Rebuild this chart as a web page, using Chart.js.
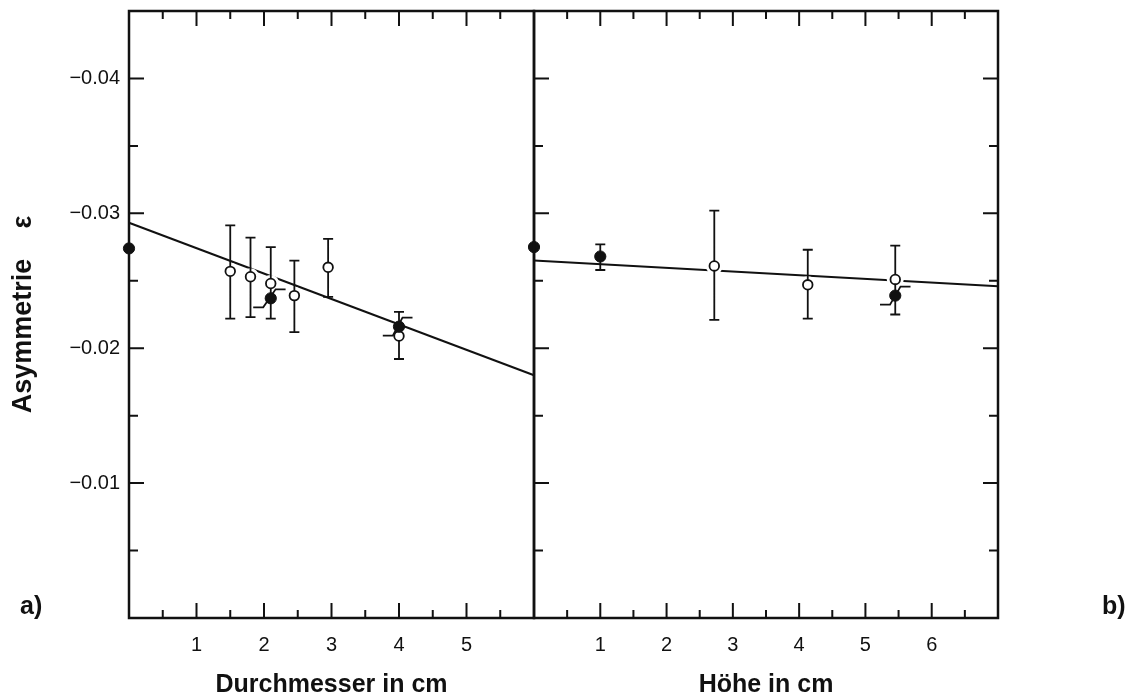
<!DOCTYPE html>
<html>
<head>
<meta charset="utf-8">
<title>Asymmetrie</title>
<script src="https://cdn.jsdelivr.net/npm/chart.js@4"></script>
<style>
  body { margin: 0; background: #fff; }
  #wrap { position: relative; width: 1143px; height: 700px; overflow: hidden; }
  canvas { position: absolute; top: 0; }
  #chartA { left: 0; }
  #chartB { left: 500px; }
</style>
</head>
<body>
<div id="wrap">
  <canvas id="chartA" width="540" height="700"></canvas>
  <canvas id="chartB" width="643" height="700"></canvas>
</div>
<script>
// a) Durchmesser – open points with vertical error bars
const durchmesserOpenX = [1.5, 1.8, 2.1, 2.45, 2.95, 4.0];
const durchmesserOpenY = [-0.0257, -0.0253, -0.0248, -0.0239, -0.0260, -0.0209];
const durchmesserOpenTop = [-0.0291, -0.0282, -0.0275, -0.0265, -0.0281, -0.0227];
const durchmesserOpenBottom = [-0.0222, -0.0223, -0.0222, -0.0212, -0.0238, -0.0192];
// a) filled points, the slanted bars give their x range
const durchmesserFilledX = [0, 2.1, 4.0];
const durchmesserFilledY = [-0.0274, -0.0237, -0.0216];
const durchmesserFilledFrom = [null, 1.84, 3.76];
const durchmesserFilledTo = [null, 2.32, 4.2];
// a) fitted line
const durchmesserFitX = [0, 6];
const durchmesserFitY = [-0.0293, -0.0180];

// b) Höhe
const hoeheOpenX = [2.72, 4.13, 5.45];
const hoeheOpenY = [-0.0261, -0.0247, -0.0251];
const hoeheOpenTop = [-0.0302, -0.0273, -0.0276];
const hoeheOpenBottom = [-0.0221, -0.0222, -0.0225];
const hoeheFilledX = [0, 1.0, 5.45];
const hoeheFilledY = [-0.0275, -0.0268, -0.0239];
const hoeheFilledTop = [null, -0.0277, null];
const hoeheFilledBottom = [null, -0.0258, null];
const hoeheFilledFrom = [null, null, 5.22];
const hoeheFilledTo = [null, null, 5.68];
const hoeheFitX = [0, 7];
const hoeheFitY = [-0.0265, -0.0246];

// ticks
const yTickLabels = [-0.04, -0.03, -0.02, -0.01];
const yMinorTicks = [-0.035, -0.025, -0.015, -0.005];
const durchmesserTickLabels = [1, 2, 3, 4, 5];
const durchmesserMinorTicks = [0.5, 1.5, 2.5, 3.5, 4.5, 5.5];
const hoeheTickLabels = [1, 2, 3, 4, 5, 6];
const hoeheMinorTicks = [0.5, 1.5, 2.5, 3.5, 4.5, 5.5, 6.5];

const INK = '#111';
const FONT = "'Liberation Sans', Arial, Helvetica, sans-serif";

function pts(xs, ys) {
  return xs.map((x, i) => ({ x, y: ys[i] }));
}

function has(list, v) {
  return list.some((t) => Math.abs(t - v) < 1e-9);
}

// keep the plot box where it is, no room for overhanging labels
function noPadding(s) {
  s.paddingTop = 0;
  s.paddingBottom = 0;
  s.paddingLeft = 0;
  s.paddingRight = 0;
}

// frame, inward ticks, error bars and panel letter
function makeFrame(cfg) {
  return {
    id: 'frame',
    afterDatasetDraw(chart, args) {
      if (args.index !== 2) return; // right after the white halos
      const { ctx } = chart;
      const x = chart.scales.x;
      const y = chart.scales.y;
      ctx.save();
      ctx.strokeStyle = INK;
      ctx.lineWidth = 1.8;
      ctx.beginPath();
      cfg.bars.forEach((b) => {
        b.x.forEach((xv, i) => {
          if (b.top[i] == null) return;
          const px = x.getPixelForValue(xv);
          const t = y.getPixelForValue(b.top[i]);
          const bt = y.getPixelForValue(b.bottom[i]);
          ctx.moveTo(px, t); ctx.lineTo(px, bt);
          ctx.moveTo(px - 5, t); ctx.lineTo(px + 5, t);
          ctx.moveTo(px - 5, bt); ctx.lineTo(px + 5, bt);
        });
      });
      cfg.spans.x.forEach((xv, i) => {
        if (cfg.spans.from[i] == null) return;
        const py = y.getPixelForValue(cfg.spans.y[i]);
        const x1 = x.getPixelForValue(cfg.spans.from[i]);
        const x2 = x.getPixelForValue(cfg.spans.to[i]);
        ctx.moveTo(x1, py + 9);
        ctx.lineTo(x1 + 10, py + 9);
        ctx.lineTo(x2 - 10, py - 9);
        ctx.lineTo(x2, py - 9);
      });
      ctx.stroke();
      ctx.restore();
    },
    afterDraw(chart) {
      const { ctx, chartArea: a } = chart;
      const x = chart.scales.x;
      const y = chart.scales.y;
      ctx.save();
      ctx.strokeStyle = INK;
      ctx.lineWidth = 2.5;
      ctx.strokeRect(a.left, a.top, a.right - a.left, a.bottom - a.top);
      ctx.lineWidth = 2;
      ctx.beginPath();
      const xTick = (v, len) => {
        const px = x.getPixelForValue(v);
        ctx.moveTo(px, a.bottom); ctx.lineTo(px, a.bottom - len);
        ctx.moveTo(px, a.top); ctx.lineTo(px, a.top + len);
      };
      const yTick = (v, len) => {
        const py = y.getPixelForValue(v);
        if (cfg.leftTicks) { ctx.moveTo(a.left, py); ctx.lineTo(a.left + len, py); }
        if (cfg.rightTicks) { ctx.moveTo(a.right, py); ctx.lineTo(a.right - len, py); }
      };
      cfg.xMajor.forEach((v) => xTick(v, 15));
      cfg.xMinor.forEach((v) => xTick(v, 8));
      yTickLabels.forEach((v) => yTick(v, 15));
      yMinorTicks.forEach((v) => yTick(v, 9));
      ctx.stroke();
      ctx.fillStyle = INK;
      ctx.font = 'bold 25px ' + FONT;
      ctx.textBaseline = 'middle';
      ctx.textAlign = 'left';
      ctx.fillText(cfg.letter, cfg.letterX, 607);
      ctx.restore();
    },
  };
}

function makeChart(id, p) {
  return new Chart(document.getElementById(id), {
    type: 'scatter',
    data: {
      datasets: [
        {
          label: 'gefüllt',
          data: pts(p.filledX, p.filledY),
          pointRadius: 5.6,
          pointBackgroundColor: INK,
          pointBorderColor: INK,
          pointBorderWidth: 1,
          order: 0,
          clip: false,
        },
        {
          label: 'offen',
          data: pts(p.openX, p.openY),
          pointRadius: 4.8,
          pointBackgroundColor: '#fff',
          pointBorderColor: INK,
          pointBorderWidth: 1.8,
          order: 1,
          clip: false,
        },
        {
          label: 'halo',
          data: pts(p.openX, p.openY),
          pointRadius: 8.5,
          pointBackgroundColor: '#fff',
          pointBorderWidth: 0,
          order: 2,
          clip: false,
        },
        {
          label: 'Ausgleichsgerade',
          data: pts(p.fitX, p.fitY),
          showLine: true,
          pointRadius: 0,
          borderColor: INK,
          borderWidth: 2,
          order: 3,
          clip: false,
        },
      ],
    },
    options: {
      responsive: false,
      animation: false,
      devicePixelRatio: 1,
      events: [],
      layout: { autoPadding: false, padding: { top: 11, right: p.padRight, bottom: 0, left: 0 } },
      plugins: { legend: { display: false }, tooltip: { enabled: false } },
      scales: {
        x: {
          type: 'linear',
          min: 0,
          max: p.xMax,
          grid: { display: false, drawTicks: false },
          border: { display: false },
          ticks: {
            stepSize: 1,
            autoSkip: false,
            maxRotation: 0,
            padding: 15,
            color: INK,
            font: { family: FONT, size: 20 },
            callback: (v) => (has(p.xLabels, v) ? String(v) : null),
          },
          title: {
            display: true,
            text: p.xTitle,
            color: INK,
            font: { family: FONT, size: 25, weight: 'bold' },
            padding: { top: 0, bottom: 0 },
          },
          afterFit: (s) => { s.height = 82; noPadding(s); },
        },
        y: {
          type: 'linear',
          min: -0.045,
          max: 0,
          reverse: true,
          grid: { display: false, drawTicks: false },
          border: { display: false },
          ticks: {
            display: p.yLabels,
            stepSize: 0.01,
            autoSkip: false,
            padding: 9,
            color: INK,
            font: { family: FONT, size: 20 },
            callback: (v) => (has(yTickLabels, v) ? '\u2212' + Math.abs(v).toFixed(2) : null),
          },
          title: {
            display: p.yLabels,
            text: 'Asymmetrie    \u03b5',
            color: INK,
            font: { family: FONT, size: 27, weight: 'bold' },
            padding: { top: 7, bottom: 0 },
          },
          afterFit: (s) => { s.width = p.yWidth; noPadding(s); },
        },
      },
    },
    plugins: [makeFrame(p.frame)],
  });
}

makeChart('chartA', {
  filledX: durchmesserFilledX, filledY: durchmesserFilledY,
  openX: durchmesserOpenX, openY: durchmesserOpenY,
  fitX: durchmesserFitX, fitY: durchmesserFitY,
  xMax: 6, xLabels: durchmesserTickLabels, xTitle: 'Durchmesser in cm',
  yLabels: true, yWidth: 129, padRight: 6,
  frame: {
    letter: 'a)', letterX: 20, leftTicks: true, rightTicks: false,
    xMajor: durchmesserTickLabels, xMinor: durchmesserMinorTicks,
    bars: [{ x: durchmesserOpenX, top: durchmesserOpenTop, bottom: durchmesserOpenBottom }],
    spans: { x: durchmesserFilledX, y: durchmesserFilledY, from: durchmesserFilledFrom, to: durchmesserFilledTo },
  },
});

makeChart('chartB', {
  filledX: hoeheFilledX, filledY: hoeheFilledY,
  openX: hoeheOpenX, openY: hoeheOpenY,
  fitX: hoeheFitX, fitY: hoeheFitY,
  xMax: 7, xLabels: hoeheTickLabels, xTitle: 'H\u00f6he in cm',
  yLabels: false, yWidth: 34, padRight: 145,
  frame: {
    letter: 'b)', letterX: 602, leftTicks: true, rightTicks: true,
    xMajor: hoeheTickLabels, xMinor: hoeheMinorTicks,
    bars: [
      { x: hoeheOpenX, top: hoeheOpenTop, bottom: hoeheOpenBottom },
      { x: hoeheFilledX, top: hoeheFilledTop, bottom: hoeheFilledBottom },
    ],
    spans: { x: hoeheFilledX, y: hoeheFilledY, from: hoeheFilledFrom, to: hoeheFilledTo },
  },
});
</script>
</body>
</html>
